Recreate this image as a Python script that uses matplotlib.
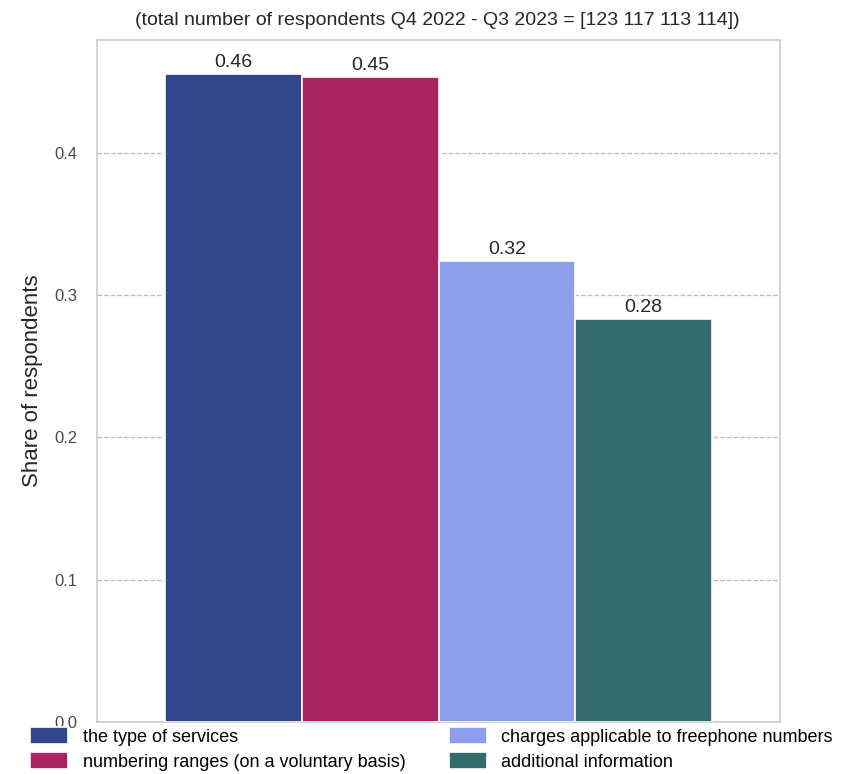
import numpy as np
import matplotlib.pyplot as plt

plt.rcParams['font.family'] = ['Liberation Sans', 'DejaVu Sans']

# data
categories = ['the type of services', 'numbering ranges (on a voluntary basis)',
              'charges applicable to freephone numbers', 'additional information']
shares = [0.4553, 0.4530, 0.3238, 0.2830]
colors = ['#32468a', '#a92460', '#8a9eec', '#336b6b']
yticks = [0.0, 0.1, 0.2, 0.3, 0.4]

fig = plt.figure(figsize=(8.45, 7.74), dpi=100)
ax = fig.add_axes([0.1148, 0.0672, 0.8083, 0.8810])

width = 0.2
xs = -0.3 + width * np.arange(len(shares))
bars = []
for x, v, c, lab in zip(xs, shares, colors, categories):
    b = ax.bar(x, v, width=width, color=c, edgecolor='white', linewidth=1.2, label=lab, zorder=3)
    bars.append(b)
    ax.bar_label(b, labels=['%.2f' % v], padding=2, fontsize=14, color='#262626')

ax.set_xlim(-0.5, 0.5)
ax.set_ylim(0, 0.479)
ax.set_xticks([])
ax.set_yticks(yticks)
ax.set_yticklabels(['%.1f' % t for t in yticks])
ax.tick_params(axis='y', length=0, labelsize=12, labelcolor='#4a4a4a', pad=14)
ax.yaxis.grid(True, linestyle='--', color='#bbbbbb', linewidth=0.9, zorder=0)
for s in ax.spines.values():
    s.set_color('#cccccc')
    s.set_linewidth(1.2)
ax.set_ylabel('Share of respondents', fontsize=16, color='#262626', labelpad=8)

fig.text(0.517, 0.974, '(total number of respondents Q4 2022 - Q3 2023 = [123 117 113 114])',
         ha='center', va='center', fontsize=14, color='#262626')

fig.legend(handles=[bars[0], bars[1], bars[2], bars[3]], labels=categories, ncol=2,
           loc='upper left', bbox_to_anchor=(0.036, 0.061), frameon=False, fontsize=13,
           handlelength=2.1, handleheight=1.1, handletextpad=0.8, columnspacing=2.4,
           labelspacing=0.35, borderaxespad=0, borderpad=0)

fig.savefig('out.png', dpi=100)
